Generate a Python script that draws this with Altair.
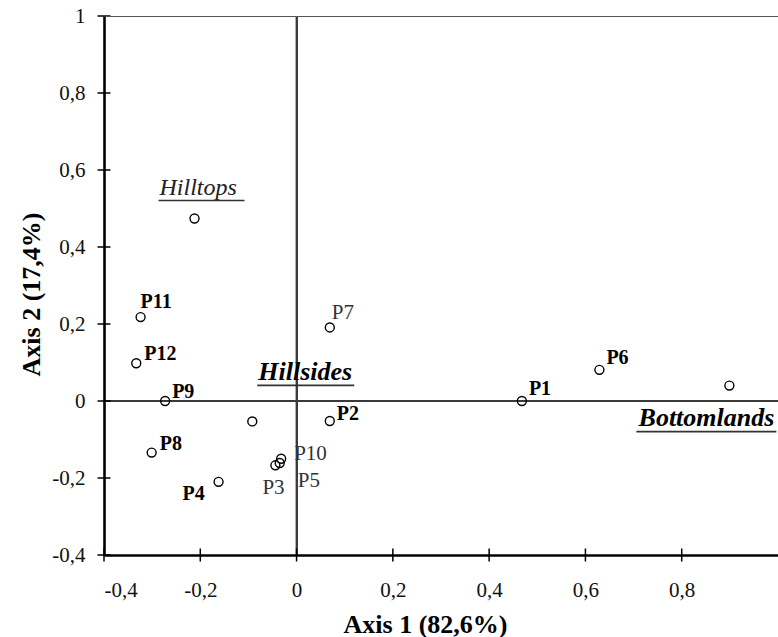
import altair as alt
import pandas as pd

# ---- data ----
labels = ["P1", "P2", "P3", "P4", "P5", "P6", "P7", "P8", "P9", "P10", "P11", "P12",
          "Hilltops", "Hillsides", "Bottomlands"]
axis1 = [0.468, 0.069, -0.044, -0.162, -0.035, 0.629, 0.069, -0.301, -0.273, -0.032,
         -0.324, -0.333, -0.212, -0.092, 0.899]
axis2 = [0.000, -0.052, -0.167, -0.210, -0.161, 0.081, 0.191, -0.134, 0.000, -0.150,
         0.218, 0.098, 0.474, -0.053, 0.040]
x_ticks = [-0.4, -0.2, 0, 0.2, 0.4, 0.6, 0.8]
y_ticks = [-0.4, -0.2, 0, 0.2, 0.4, 0.6, 0.8, 1.0]
x_title = "Axis 1 (82,6%)"
y_title = "Axis 2 (17,4%)"

df = pd.DataFrame({"label": labels, "axis1": axis1, "axis2": axis2})
xt_df = pd.DataFrame({"t": x_ticks})
yt_df = pd.DataFrame({"t": y_ticks})

# ---- styling ----
FONT = "Liberation Serif"
W, H = 674, 539
xscale = alt.Scale(domain=[-0.4, 1.0], nice=False, zero=False)
yscale = alt.Scale(domain=[-0.4, 1.0], nice=False, zero=False)
label_expr = "replace(toString(round(datum.value*10)/10), '.', ',')"

# label style: dx, dy, align, weight, style, size, color
label_style = {
    "P1": (7, -6, "left", "bold", "normal", 20, "black"),
    "P2": (7, -1, "left", "bold", "normal", 20, "black"),
    "P3": (-13, 29, "left", "normal", "normal", 21, "#333333"),
    "P4": (-36, 18, "left", "bold", "normal", 20, "black"),
    "P5": (18, 24, "left", "normal", "normal", 21, "#333333"),
    "P6": (7, -6, "left", "bold", "normal", 20, "black"),
    "P7": (2, -8, "left", "normal", "normal", 21, "#333333"),
    "P8": (8, -3, "left", "bold", "normal", 20, "black"),
    "P9": (7, -3, "left", "bold", "normal", 20, "black"),
    "P10": (13, 1, "left", "normal", "normal", 21, "#333333"),
    "P11": (0, -9, "left", "bold", "normal", 20, "black"),
    "P12": (8, -3, "left", "bold", "normal", 20, "black"),
    "Hilltops": (-35, -24, "left", "normal", "italic", 24, "#222222"),
    "Hillsides": (6, -41, "left", "bold", "italic", 26, "black"),
    "Bottomlands": (45, 40, "right", "bold", "italic", 26, "black"),
}
# underline: xOffset, x2Offset, yOffset
underline_style = {
    "Hilltops": (-36, 50, -18),
    "Hillsides": (5, 102, -36),
    "Bottomlands": (-93, 47, 46),
}

base = alt.Chart(df)

main_x_axis = alt.Axis(
    values=x_ticks, labelExpr=label_expr, grid=False, domain=True, ticks=False,
    domainColor="black", domainWidth=2.6,
    labelFont=FONT, labelFontSize=21, labelColor="#111111", labelPadding=24,
    title=x_title, titleFont=FONT, titleFontSize=26, titleFontWeight="bold",
    titleColor="black", titleX=321, titleY=77, titleBaseline="alphabetic",
    titleAlign="center", zindex=2,
)
main_y_axis = alt.Axis(
    values=y_ticks, labelExpr=label_expr, grid=False, domain=True, ticks=False,
    domainColor="black", domainWidth=2.6,
    labelFont=FONT, labelFontSize=21, labelColor="#111111", labelPadding=19,
    title=y_title, titleFont=FONT, titleFontSize=26, titleFontWeight="bold",
    titleColor="black", titleX=-65, titleY=278, titleBaseline="alphabetic",
    titleAlign="center", titleAngle=270, zindex=2,
)
top_axis = alt.Axis(orient="top", domain=True, domainColor="#555555", domainWidth=1,
                    ticks=False, labels=False, title=None, grid=False, zindex=1)

zero_v = base.mark_rule(color="#3a3a3a", strokeWidth=1.2).encode(
    x=alt.XDatum(0, type="quantitative", scale=xscale, axis=None))
zero_h = base.mark_rule(color="#3a3a3a", strokeWidth=1.2).encode(
    y=alt.YDatum(0, type="quantitative", scale=yscale, axis=None))

points = base.mark_point(shape="circle", filled=False, size=80, strokeWidth=1.4,
                         color="black", opacity=1).encode(
    x=alt.X("axis1:Q", scale=xscale, axis=main_x_axis),
    y=alt.Y("axis2:Q", scale=yscale, axis=main_y_axis),
)

top = base.mark_point(opacity=0).encode(
    x=alt.X("axis1:Q", scale=xscale, axis=top_axis),
    y=alt.Y("axis2:Q", scale=yscale, axis=None),
)

# crossing tick marks on both axes
x_tick_marks = alt.Chart(xt_df).mark_tick(orient="vertical", size=13, thickness=1.5,
                                          color="black", opacity=1).encode(
    x=alt.X("t:Q", scale=xscale, axis=None),
    y=alt.YDatum(y_ticks[0], type="quantitative", scale=yscale, axis=None),
)
y_tick_marks = alt.Chart(yt_df).mark_tick(orient="horizontal", size=13, thickness=1.5,
                                          color="black", opacity=1).encode(
    y=alt.Y("t:Q", scale=yscale, axis=None),
    x=alt.XDatum(x_ticks[0], type="quantitative", scale=xscale, axis=None),
)

layers = [zero_v, zero_h, points, top, x_tick_marks, y_tick_marks]

for lab in labels:
    dx, dy, align, weight, fstyle, size, color = label_style[lab]
    layers.append(
        base.transform_filter(alt.datum.label == lab).mark_text(
            dx=dx, dy=dy, align=align, baseline="alphabetic", font=FONT,
            fontSize=size, fontWeight=weight, fontStyle=fstyle, color=color,
        ).encode(
            x=alt.X("axis1:Q", scale=xscale, axis=None),
            y=alt.Y("axis2:Q", scale=yscale, axis=None),
            text="label:N",
        )
    )

for lab, (xo, x2o, yo) in underline_style.items():
    layers.append(
        base.transform_filter(alt.datum.label == lab).mark_rule(
            xOffset=xo, x2Offset=x2o, yOffset=yo, color="#333333", strokeWidth=1.6,
        ).encode(
            x=alt.X("axis1:Q", scale=xscale, axis=None),
            x2="axis1:Q",
            y=alt.Y("axis2:Q", scale=yscale, axis=None),
        )
    )

chart = alt.layer(*layers).resolve_axis(x="independent", y="independent").properties(
    width=W, height=H,
    autosize=alt.AutoSizeParams(type="none"),
    padding={"left": 104, "top": 16, "right": 0, "bottom": 82},
    background="white",
).configure_view(stroke=None)

chart.save("out.html", embed_options={"renderer": "svg", "actions": False})
